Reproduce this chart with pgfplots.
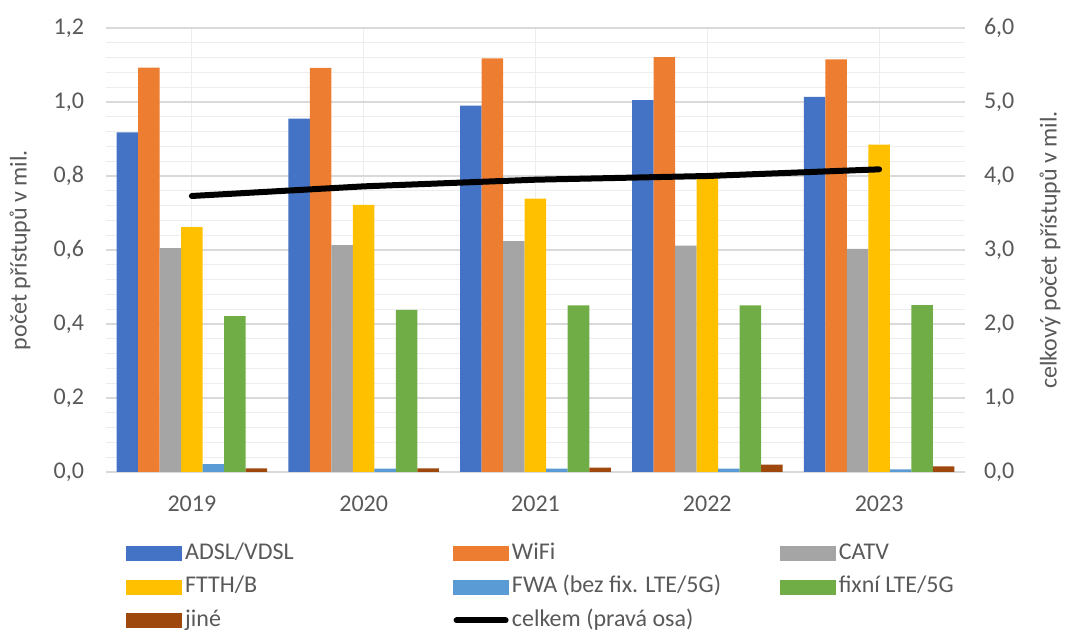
\documentclass[border=0pt]{standalone}
\usepackage{fontspec}
\setmainfont{Carlito}
\usepackage{pgfplots}
\pgfplotsset{compat=1.18}

\definecolor{cADSL}{HTML}{4472C4}
\definecolor{cWiFi}{HTML}{ED7D31}
\definecolor{cCATV}{HTML}{A5A5A5}
\definecolor{cFTTH}{HTML}{FFC000}
\definecolor{cFWA}{HTML}{5B9BD5}
\definecolor{cLTE}{HTML}{70AD47}
\definecolor{cJine}{HTML}{9E480E}
\definecolor{txt}{HTML}{595959}
\definecolor{gmaj}{HTML}{D9D9D9}
\definecolor{gmin}{HTML}{EDEDED}

\pgfplotsset{
  base/.style={
    width=429.5bp, height=222bp, scale only axis,
    at={(0,0)}, anchor=south west,
    xmin=-0.5, xmax=4.5,
    font=\fontsize{12bp}{14bp}\selectfont,
    tick style={draw=none},
    axis line style={draw=none},
    ticklabel style={text=txt},
    label style={text=txt},
    /pgf/number format/use comma,
    /pgf/number format/fixed,
    /pgf/number format/fixed zerofill,
    /pgf/number format/precision=1,
    /pgf/number format/assume math mode=true,
  },
}

\begin{document}
\begin{tikzpicture}
\path[use as bounding box] (-53bp,-79bp) rectangle (482.5bp,236bp);

% left axis: bars
\begin{axis}[base,
  ybar=0pt, bar width=10.75bp,
  ymin=0, ymax=1.2,
  ytick={0,0.2,0.4,0.6,0.8,1.0,1.2},
  minor y tick num=4,
  ymajorgrids, yminorgrids, xmajorgrids,
  major y grid style={gmaj, line width=1bp},
  minor y grid style={gmin, line width=0.6bp},
  major x grid style={gmin, line width=0.6bp},
  xtick={0,1,2,3,4},
  xticklabels={2019,2020,2021,2022,2023},
  xticklabel style={anchor=center, yshift=-11.5bp},
  yticklabel style={xshift=-7.5bp},
  ylabel={počet přístupů v mil.},
  ylabel style={at={(axis description cs:-0.100,0.5)}, anchor=center},
]
\addplot[fill=cADSL, draw=none] coordinates {(0,0.918) (1,0.955) (2,0.990) (3,1.005) (4,1.014)};
\addplot[fill=cWiFi, draw=none] coordinates {(0,1.093) (1,1.092) (2,1.118) (3,1.121) (4,1.115)};
\addplot[fill=cCATV, draw=none] coordinates {(0,0.605) (1,0.613) (2,0.624) (3,0.612) (4,0.603)};
\addplot[fill=cFTTH, draw=none] coordinates {(0,0.662) (1,0.722) (2,0.739) (3,0.796) (4,0.885)};
\addplot[fill=cFWA, draw=none] coordinates {(0,0.021) (1,0.009) (2,0.009) (3,0.009) (4,0.007)};
\addplot[fill=cLTE, draw=none] coordinates {(0,0.421) (1,0.438) (2,0.450) (3,0.450) (4,0.451)};
\addplot[fill=cJine, draw=none] coordinates {(0,0.010) (1,0.010) (2,0.012) (3,0.020) (4,0.015)};
\end{axis}

% right axis: total line + legend
\begin{axis}[base,
  ymin=0, ymax=6,
  ytick={0,1,2,3,4,5,6},
  xtick=\empty,
  yticklabel pos=right,
  yticklabel style={xshift=6bp},
  ylabel={celkový počet přístupů v mil.},
  ylabel style={at={(axis description cs:1.099,0.5)}, anchor=center},
  legend columns=3,
  legend cell align=left,
  legend style={at={(axis description cs:0,0)}, anchor=north west,
    xshift=10bp, yshift=-34bp, draw=none, fill=none, inner sep=0pt,
    column sep=0pt, row sep=3.75bp,
    text=txt, font=\fontsize{12bp}{14bp}\selectfont,
    nodes={inner xsep=1.5bp, inner ysep=1bp, text height=8.5bp, text depth=2.5bp}},
]
\addlegendimage{legend image code/.code={\fill[cADSL] (0bp,-3.5bp) rectangle (27.5bp,3.5bp);}}
\addlegendentry{\makebox[132.5bp][l]{ADSL/VDSL}}
\addlegendimage{legend image code/.code={\fill[cWiFi] (0bp,-3.5bp) rectangle (27.5bp,3.5bp);}}
\addlegendentry{\makebox[132.5bp][l]{WiFi}}
\addlegendimage{legend image code/.code={\fill[cCATV] (0bp,-3.5bp) rectangle (27.5bp,3.5bp);}}
\addlegendentry{\makebox[132.5bp][l]{CATV}}
\addlegendimage{legend image code/.code={\fill[cFTTH] (0bp,-3.5bp) rectangle (27.5bp,3.5bp);}}
\addlegendentry{\makebox[132.5bp][l]{FTTH/B}}
\addlegendimage{legend image code/.code={\fill[cFWA] (0bp,-3.5bp) rectangle (27.5bp,3.5bp);}}
\addlegendentry{\makebox[132.5bp][l]{FWA (bez fix. LTE/5G)}}
\addlegendimage{legend image code/.code={\fill[cLTE] (0bp,-3.5bp) rectangle (27.5bp,3.5bp);}}
\addlegendentry{\makebox[132.5bp][l]{fixní LTE/5G}}
\addlegendimage{legend image code/.code={\fill[cJine] (0bp,-3.5bp) rectangle (27.5bp,3.5bp);}}
\addlegendentry{\makebox[132.5bp][l]{jiné}}
\addplot[black, line width=3bp, line cap=round,
  legend image code/.code={\draw[black, line width=3bp, line cap=round] (1.5bp,0bp) -- (26bp,0bp);}]
  coordinates {(0,3.73) (1,3.86) (2,3.95) (3,4.00) (4,4.09)};
\addlegendentry{\makebox[132.5bp][l]{celkem (pravá osa)}}
\end{axis}
\end{tikzpicture}
\end{document}
